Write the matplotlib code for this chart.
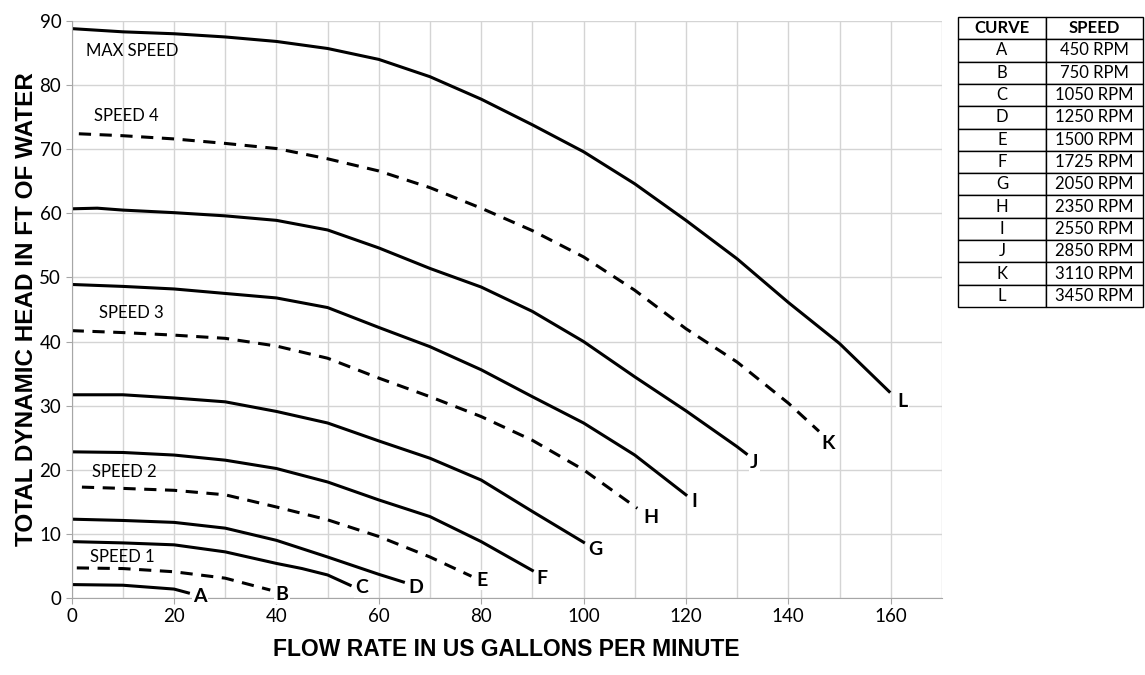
import matplotlib
matplotlib.use("Agg")
import matplotlib.pyplot as plt

# pump curves: flow (US gpm) vs total dynamic head (ft of water)
a_x = [0, 10, 20, 22.8]
a_y = [2.1, 2.0, 1.4, 0.8]
b_x = [1, 10, 20, 30, 38.8]
b_y = [4.7, 4.6, 4.1, 3.1, 1.25]
c_x = [0, 10, 20, 30, 40, 45, 50, 54.4]
c_y = [8.8, 8.6, 8.3, 7.2, 5.4, 4.6, 3.6, 2.0]
d_x = [0, 10, 20, 30, 40, 50, 60, 64.8]
d_y = [12.3, 12.1, 11.8, 10.9, 9.0, 6.4, 3.7, 2.5]
e_x = [2, 10, 20, 30, 40, 50, 60, 70, 78.1]
e_y = [17.3, 17.1, 16.8, 16.1, 14.2, 12.2, 9.6, 6.4, 3.4]
f_x = [0, 10, 20, 30, 40, 50, 60, 70, 80, 90]
f_y = [22.8, 22.7, 22.3, 21.5, 20.2, 18.1, 15.3, 12.7, 8.8, 4.3]
g_x = [0, 10, 20, 30, 40, 50, 60, 70, 80, 90, 100]
g_y = [31.7, 31.7, 31.2, 30.6, 29.1, 27.3, 24.5, 21.8, 18.4, 13.5, 8.7]
h_x = [0, 10, 20, 30, 40, 50, 60, 70, 80, 90, 100, 110.5]
h_y = [41.7, 41.4, 41.0, 40.5, 39.3, 37.4, 34.3, 31.4, 28.3, 24.6, 20.0, 14.0]
i_x = [0, 10, 20, 30, 40, 50, 60, 70, 80, 90, 100, 110, 120]
i_y = [48.9, 48.6, 48.2, 47.5, 46.8, 45.3, 42.2, 39.2, 35.6, 31.4, 27.3, 22.3, 16.1]
j_x = [0, 5, 10, 20, 30, 40, 50, 60, 70, 80, 90, 100, 110, 120, 130, 131.8]
j_y = [60.7, 60.8, 60.5, 60.1, 59.6, 58.9, 57.4, 54.6, 51.4, 48.5, 44.7, 40.0, 34.5, 29.2, 23.6, 22.5]
k_x = [1.4, 10, 20, 30, 40, 50, 60, 70, 80, 90, 100, 110, 120, 130, 140, 146]
k_y = [72.4, 72.1, 71.6, 70.9, 70.1, 68.5, 66.6, 64.0, 60.8, 57.3, 53.2, 48.0, 42.0, 36.8, 30.4, 26.0]
l_x = [0, 10, 20, 30, 40, 50, 60, 70, 80, 90, 100, 110, 120, 130, 140, 150, 159.7]
l_y = [88.8, 88.3, 88.0, 87.5, 86.8, 85.7, 84.0, 81.3, 77.8, 73.8, 69.6, 64.6, 58.9, 52.9, 46.1, 39.7, 32.2]

curve_names = ["A", "B", "C", "D", "E", "F", "G", "H", "I", "J", "K", "L"]
curve_rpm = ["450 RPM", "750 RPM", "1050 RPM", "1250 RPM", "1500 RPM", "1725 RPM",
             "2050 RPM", "2350 RPM", "2550 RPM", "2850 RPM", "3110 RPM", "3450 RPM"]
dashed = ["B", "E", "H", "K"]

speed_names = ["SPEED 1", "SPEED 2", "SPEED 3", "SPEED 4", "MAX SPEED"]
speed_pos = [(3.6, 6.4), (3.9, 19.7), (5.4, 44.4), (4.4, 75.1), (2.8, 85.3)]

curves = [(a_x, a_y), (b_x, b_y), (c_x, c_y), (d_x, d_y), (e_x, e_y), (f_x, f_y),
          (g_x, g_y), (h_x, h_y), (i_x, i_y), (j_x, j_y), (k_x, k_y), (l_x, l_y)]
# where each letter sits relative to the end of its curve
label_off = [(1.0, -0.6), (1.0, -0.65), (1.0, -0.4), (1.0, -0.8), (0.9, -0.6), (0.8, -1.2),
             (0.9, -1.1), (1.2, -1.5), (1.0, -1.1), (0.7, -1.3), (0.4, -1.9), (1.6, -1.6)]

fig = plt.figure(figsize=(11.45, 6.75), dpi=100)
ax = fig.add_axes([0.0626, 0.114, 0.760, 0.855])

for name, (xs, ys), (dx, dy) in zip(curve_names, curves, label_off):
    if name in dashed:
        ax.plot(xs, ys, color="black", lw=2.2, dashes=(4, 2.8), solid_capstyle="butt")
    else:
        ax.plot(xs, ys, color="black", lw=2.2, solid_joinstyle="round")
    ax.text(xs[-1] + dx, ys[-1] + dy, name, fontsize=14, fontweight="bold",
            family="Lato", ha="left", va="center",
            bbox=dict(facecolor="white", edgecolor="none", pad=1))

for txt, (tx, ty) in zip(speed_names, speed_pos):
    ax.text(tx, ty, txt, fontsize=12, family="Lato", ha="left", va="center")

ax.set_xlim(0, 170)
ax.set_ylim(0, 90)
ax.set_xticks(range(0, 161, 20))
ax.set_xticks(range(0, 171, 10), minor=True)
ax.set_yticks(range(0, 91, 10))
ax.grid(True, which="both", color="#d4d4d4", lw=1)
ax.set_axisbelow(True)
for s in ["top", "right"]:
    ax.spines[s].set_visible(False)
for s in ["left", "bottom"]:
    ax.spines[s].set_color("#a6a6a6")
ax.tick_params(which="both", color="#a6a6a6", length=4)
ax.tick_params(which="minor", length=0)
for lab in ax.get_xticklabels() + ax.get_yticklabels():
    lab.set_family("Lato")
    lab.set_fontsize(13.5)

ax.set_xlabel("FLOW RATE IN US GALLONS PER MINUTE", fontsize=16.5, fontweight="bold",
              family="Liberation Sans", labelpad=9)
ax.set_ylabel("TOTAL DYNAMIC HEAD IN FT OF WATER", fontsize=17.5, fontweight="bold",
              family="Liberation Sans", labelpad=1)

# speed table on the right
tax = fig.add_axes([0.8367, 0.5452, 0.1616, 0.4296])
tax.axis("off")
rows = [["CURVE", "SPEED"]] + [[n, r] for n, r in zip(curve_names, curve_rpm)]
tbl = tax.table(cellText=rows, cellLoc="center", bbox=[0, 0, 1, 1], colWidths=[0.476, 0.524])
tbl.auto_set_font_size(False)
for (r, c), cell in tbl.get_celld().items():
    cell.set_edgecolor("black")
    cell.set_linewidth(1)
    cell.get_text().set_family("Lato")
    cell.get_text().set_fontsize(12)
    if r == 0:
        cell.get_text().set_fontweight("bold")

fig.savefig("out.png", dpi=100)
